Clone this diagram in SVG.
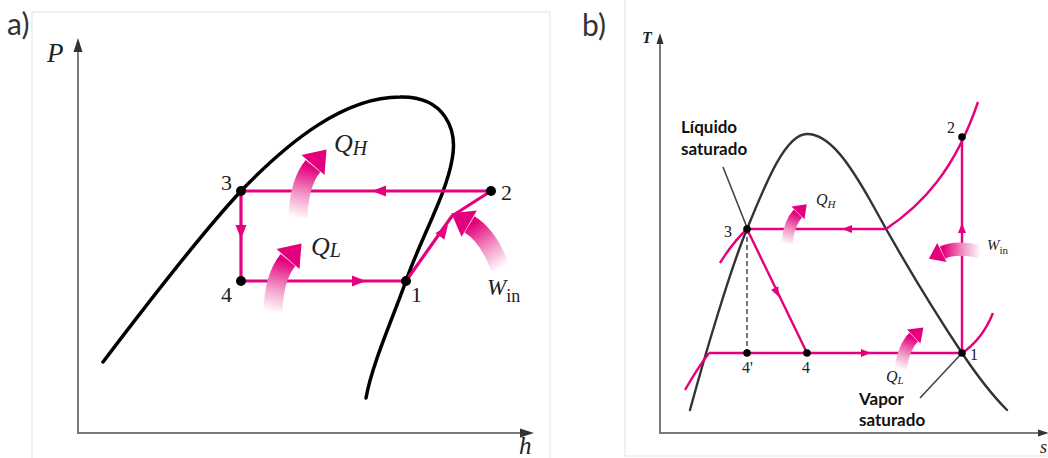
<svg xmlns="http://www.w3.org/2000/svg" xmlns:xlink="http://www.w3.org/1999/xlink" width="1048" height="458" viewBox="0 0 1048 458">
<style>
.panel{fill:#fff;stroke:#ececec;stroke-width:1.5}
.axis{fill:none;stroke:#7a7a7a;stroke-width:2}
.axhead{fill:#333}
.dome{fill:none;stroke:#000;stroke-width:3.5;stroke-linecap:round;stroke-linejoin:round}
.dome2{fill:none;stroke:#333;stroke-width:2.4;stroke-linecap:round}
.cyc{fill:none;stroke:#e6007e;stroke-width:3.2;stroke-linejoin:round}
.cyc2{fill:none;stroke:#e6007e;stroke-width:2.4;stroke-linejoin:round}
.pk{fill:#e6007e}
.dot{fill:#000}
.ptr{fill:none;stroke:#444;stroke-width:1.6}
.dash{fill:none;stroke:#555;stroke-width:1.6;stroke-dasharray:5 3}
.num{font-family:"Liberation Serif",serif;fill:#222}
.var{font-family:"Liberation Serif",serif;font-style:italic;fill:#222}
.sub{font-family:"Liberation Serif",serif;fill:#222}
.lab{font-family:Lato,"Liberation Sans",sans-serif;fill:#333}
.note{font-family:Lato,"Liberation Sans",sans-serif;font-weight:700;fill:#111}
</style>
<defs>
<linearGradient id="gp" gradientUnits="userSpaceOnUse" x1="1" y1="6" x2="14" y2="-46">
<stop offset="0" stop-color="#ffffff"/>
<stop offset="0.45" stop-color="#f39ac8"/>
<stop offset="1" stop-color="#e4007c"/>
</linearGradient>
<g id="bend">
<path d="M0,4 Q1,-30 15,-47" fill="none" stroke="url(#gp)" stroke-width="19"/>
<polygon points="3.5,-57.9 26.5,-38 28.5,-63.5" fill="#e4007c"/>
</g>
<path id="ah" d="M0,0 L-14,-5.5 L-14,5.5 Z"/>
<path id="ahs" d="M0,0 L-10,-4 L-10,4 Z"/>
</defs>

<g id="panel-a">
<rect class="panel" x="32" y="12" width="518" height="460"/>
<text class="lab" x="7" y="35" font-size="30">a)</text>
</g>
<g id="panel-b">
<rect class="panel" x="625" y="-2" width="430" height="458"/>
<text class="lab" x="582" y="36" font-size="30">b)</text>
</g>

<g id="axes-a">
<path class="axis" d="M78,48 V433 H522"/>
<polygon class="axhead" points="78,38 73.5,52 82.5,52"/>
<polygon class="axhead" points="534,433 520,428.5 520,437.5"/>
<text class="var" x="47" y="62" font-size="27">P</text>
<text class="var" x="519" y="454" font-size="25">h</text>
</g>

<g id="axes-b">
<path class="axis" d="M660,42 V433 H1040" stroke="#555"/>
<polygon class="axhead" points="660,33 656.5,44 663.5,44"/>
<polygon class="axhead" points="1049,433 1038,429.5 1038,436.5"/>
<text class="var" x="642" y="43" font-size="16" font-weight="700">T</text>
<text class="var" x="1040" y="453" font-size="18">s</text>
</g>

<g id="dome-a">
<path class="dome" d="M103,362 C150,300 200,235 241,191 C290,140 345,97 400,97 C445,96 458,130 452,160 C446,195 420,240 406,281 C390,325 372,365 366,398"/>
</g>

<g id="dome-b">
<path class="dome2" d="M690,410 C705,355 730,270 747,229 C765,185 785,134 807,134 C830,134 850,165 870,200 C900,255 930,305 962,353 C980,380 995,398 1007,410"/>
</g>

<g id="connectors">
<!-- panel a cycle -->
<path class="cyc" d="M491,191 H241 V281 H406 L452,216 L491,191"/>
<use href="#ah" class="pk" transform="translate(372,191) rotate(180)"/>
<use href="#ah" class="pk" transform="translate(241,239) rotate(90)"/>
<use href="#ah" class="pk" transform="translate(366,281)"/>
<use href="#ah" class="pk" transform="translate(448,225) rotate(-54.7)"/>
<!-- panel b cycle -->
<path class="cyc2" d="M886,229 H747 L807,353"/>
<path class="cyc2" d="M709,353 H962 V137"/>
<path class="cyc2" d="M886,229 C922,205 955,170 978,102"/>
<path class="cyc2" d="M685,390 Q697,369 709,353"/>
<path class="cyc2" d="M720,263 Q733,242 748,228"/>
<path class="cyc2" d="M962,353 Q982,340 993,313"/>
<path class="dash" d="M747,229 V353"/>
<use href="#ahs" class="pk" transform="translate(842,229) rotate(180)"/>
<use href="#ahs" class="pk" transform="translate(779,297) rotate(64.2)"/>
<use href="#ahs" class="pk" transform="translate(871,353)"/>
<use href="#ahs" class="pk" transform="translate(962,223) rotate(-90)"/>
<path class="ptr" d="M723,167 L748,230"/>
<path class="ptr" d="M920,398 L962,353"/>
</g>

<g id="heat-arrows">
<use href="#bend" transform="translate(298,213)"/>
<use href="#bend" transform="translate(273,307)"/>
<use href="#bend" transform="translate(499,264) rotate(-19) scale(-1,1)"/>
<use href="#bend" transform="translate(787,241) rotate(4) scale(0.6)"/>
<use href="#bend" transform="translate(901,366) rotate(6) scale(0.64)"/>
<use href="#bend" transform="translate(977,251) rotate(-75) scale(-0.7,0.7)"/>
</g>

<g id="state-a">
<circle class="dot" cx="241" cy="191" r="5"/>
<circle class="dot" cx="491" cy="191" r="5"/>
<circle class="dot" cx="241" cy="281" r="5"/>
<circle class="dot" cx="406" cy="281" r="5"/>
<text class="num" x="221" y="190" font-size="22">3</text>
<text class="num" x="501" y="200" font-size="22">2</text>
<text class="num" x="221" y="302" font-size="22">4</text>
<text class="num" x="411" y="302" font-size="22">1</text>
</g>

<g id="state-b">
<circle class="dot" cx="747" cy="229" r="3.8"/>
<circle class="dot" cx="962" cy="137" r="3.8"/>
<circle class="dot" cx="747" cy="353" r="3.8"/>
<circle class="dot" cx="807" cy="353" r="3.8"/>
<circle class="dot" cx="962" cy="353" r="3.8"/>
<text class="num" x="724" y="237" font-size="16" fill="#445">3</text>
<text class="num" x="947" y="133" font-size="16">2</text>
<text class="num" x="742" y="373" font-size="16">4'</text>
<text class="num" x="802" y="373" font-size="16">4</text>
<text class="num" x="970" y="360" font-size="16">1</text>
</g>

<g id="labels-a">
<text class="var" x="334" y="152" font-size="26">Q<tspan class="var" font-size="20" dy="3">H</tspan></text>
<text class="var" x="311" y="255" font-size="26">Q<tspan class="var" font-size="20" dy="2">L</tspan></text>
<text class="var" x="487" y="295" font-size="23">W<tspan class="sub" font-style="normal" font-size="18" dy="7">in</tspan></text>
</g>

<g id="labels-b">
<text class="var" x="816" y="205" font-size="16" fill="#334">Q<tspan font-size="11" dy="3">H</tspan></text>
<text class="var" x="886" y="382" font-size="16" fill="#334">Q<tspan font-size="11" dy="2">L</tspan></text>
<text class="var" x="987" y="250" font-size="15" fill="#334">W<tspan font-style="normal" font-size="11" dy="4">in</tspan></text>
<text class="note" x="681" y="133" font-size="17">Líquido</text>
<text class="note" x="681" y="155" font-size="17">saturado</text>
<text class="note" x="859" y="405" font-size="17">Vapor</text>
<text class="note" x="859" y="426" font-size="17">saturado</text>
</g>
</svg>
